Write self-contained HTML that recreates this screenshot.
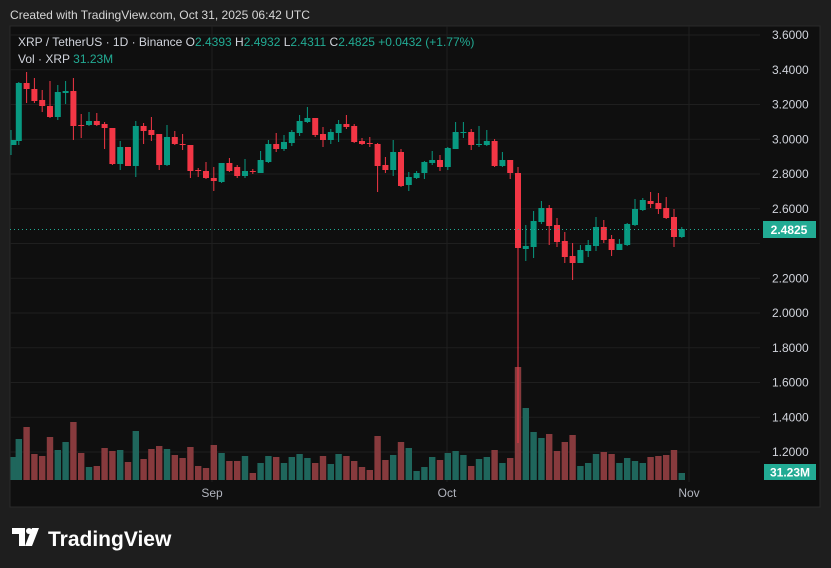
<!DOCTYPE html>
<html><head><meta charset="utf-8"><style>
html,body{margin:0;padding:0;background:#1e1e1e;width:831px;height:568px;overflow:hidden;font-family:"Liberation Sans",sans-serif}
svg{position:absolute;left:0;top:0}
</style></head><body>
<svg id="s" width="831" height="568" xmlns="http://www.w3.org/2000/svg">
<rect x="0" y="0" width="831" height="568" fill="#1e1e1e"/>
<text x="10" y="19" fill="#d6d6d6" font-size="12" font-family="Liberation Sans, sans-serif" textLength="300" lengthAdjust="spacingAndGlyphs">Created with TradingView.com, Oct 31, 2025 06:42 UTC</text>
<rect x="10" y="26" width="810" height="481" fill="#0f0f0f" stroke="#2a2a2a" stroke-width="1"/>
<g id="grid"></g>
<g id="vol"></g>
<g id="cnd"></g>
<line x1="10" y1="229.5" x2="760" y2="229.5" stroke="#22ab94" stroke-width="1" stroke-dasharray="1,3"/>
<g id="lbl" font-size="12" fill="#d1d4dc" font-family="Liberation Sans, sans-serif"></g>
<rect x="763" y="221" width="53" height="17" fill="#22ab94"/>
<text x="789" y="234" fill="#fff" font-size="12" font-weight="bold" text-anchor="middle">2.4825</text>
<rect x="764" y="464" width="52" height="16" fill="#22ab94"/>
<text x="790" y="476.5" fill="#fff" font-size="12" font-weight="bold" text-anchor="middle">31.23M</text>
<g font-size="12" fill="#b2b5be" text-anchor="middle">
<text x="212" y="497">Sep</text><text x="447" y="497">Oct</text><text x="689" y="497">Nov</text>
</g>
<text x="18" y="46" font-size="12" fill="#d1d4dc">XRP / TetherUS · 1D · Binance <tspan fill="#d1d4dc"> O</tspan><tspan fill="#22ab94">2.4393</tspan><tspan> H</tspan><tspan fill="#22ab94">2.4932</tspan><tspan> L</tspan><tspan fill="#22ab94">2.4311</tspan><tspan> C</tspan><tspan fill="#22ab94">2.4825 +0.0432 (+1.77%)</tspan></text>
<text x="18" y="63" font-size="12" fill="#d1d4dc">Vol · XRP <tspan fill="#22ab94">31.23M</tspan></text>
<g transform="translate(12,528)" fill="#ffffff">
<path d="M0 0h13v18h-6V6H0z"/><circle cx="17" cy="3" r="3"/><path d="M20 0h7l-7 18h-7z"/>
</g>
<text x="48" y="546" fill="#ffffff" font-size="21" font-weight="bold">TradingView</text>
</svg>
<script>
const NS="http://www.w3.org/2000/svg";
function el(p,t,a){const e=document.createElementNS(NS,t);for(const k in a)e.setAttribute(k,a[k]);document.getElementById(p).appendChild(e);return e;}
const prices=["3.6000","3.4000","3.2000","3.0000","2.8000","2.6000","2.4000","2.2000","2.0000","1.8000","1.6000","1.4000","1.2000"];
prices.forEach((p,i)=>{const y=35+i*34.75;
 el("grid","line",{x1:10,x2:760,y1:y,y2:y,stroke:"#1f1f1f","stroke-width":1});
 if(p!=="2.4000"){const t=el("lbl","text",{x:772,y:y+4});t.textContent=p;}});
[212,447,689].forEach(x=>el("grid","line",{x1:x,x2:x,y1:26,y2:482,stroke:"#1f1f1f","stroke-width":1}));
const C=[
[140,145,130,155,1],[83,141,82,145,1],[83,89,72,103,0],[89,101,78,103,0],[100,106,90,112,0],[106,117,81,118,0],[92,117,85,120,1],[91,93,81,104,1],[91,126,78,140,0],[125,126,114,138,0],
[121,125,112,126,1],[121,125,113,126,0],[124,128,122,149,0],[128,164,128,165,0],[147,164,141,170,1],[147,166,147,166,0],[126,166,121,177,1],[126,131,123,144,0],[130,135,117,141,0],[134,165,134,170,0],
[137,165,125,166,1],[137,144,131,145,0],[144,145,134,150,0],[145,171,145,178,0],[170,171,168,177,0],[171,178,162,179,0],[178,181,167,191,0],[163,182,163,183,1],[163,171,158,172,0],[167,176,165,178,0],
[171,176,159,178,1],[171,172,169,174,0],[160,173,151,173,1],[144,162,140,163,1],[144,149,133,152,0],[142,149,135,151,1],[132,143,130,146,1],[121,133,115,136,1],[118,122,107,123,1],[118,135,118,137,0],
[134,140,127,147,0],[132,140,129,144,1],[124,133,120,142,1],[124,127,115,129,0],[126,142,124,143,0],[141,144,138,145,0],[143,144,137,147,0],[144,166,143,192,0],[165,170,157,173,0],[152,170,140,176,1],
[152,186,149,187,0],[177,185,172,191,1],[173,178,171,179,1],[162,173,161,179,1],[160,163,151,165,1],[160,167,155,171,0],[148,167,147,170,1],[132,149,122,149,1],[132,133,122,138,1],[132,145,129,150,0],
[144,145,126,147,1],[141,145,130,146,1],[141,166,139,167,0],[160,166,152,167,1],[160,173,160,179,0],[173,248,167,443,0],[246,249,225,261,1],[221,247,211,258,1],[208,222,201,224,1],[208,226,205,245,0],
[225,242,218,247,0],[241,257,232,263,0],[256,263,243,280,0],[250,263,245,263,1],[245,251,240,257,1],[227,246,217,251,1],[227,240,220,243,0],[239,250,235,256,0],[244,250,239,250,1],[224,245,223,246,1],
[209,225,199,226,1],[200,210,198,211,1],[201,204,192,208,0],[203,209,193,214,0],[208,218,197,219,0],[217,237,209,247,0],[229,237,227,238,1]];
const V=[[457,1],[439,1],[427,0],[454,0],[456,0],[437,0],[450,1],[442,1],[422,0],[453,0],[467,1],[466,0],[448,0],[451,0],[450,1],[462,0],[431,1],[459,0],[449,0],[446,0],
[449,1],[455,0],[458,0],[447,0],[466,0],[468,0],[445,0],[453,1],[461,0],[461,0],[456,1],[473,0],[463,1],[456,1],[457,0],[463,1],[457,1],[454,1],[458,1],[463,0],
[456,0],[464,1],[454,1],[456,0],[461,0],[467,0],[470,0],[436,0],[460,0],[455,1],[442,0],[448,1],[471,1],[467,1],[457,1],[460,0],[453,1],[451,1],[455,1],[466,0],
[459,1],[457,1],[450,0],[463,1],[458,0],[367,0],[408,1],[432,1],[438,1],[434,0],[451,0],[442,0],[435,0],[466,1],[463,1],[454,1],[452,0],[454,0],[463,1],[458,1],
[461,1],[463,1],[457,0],[456,0],[455,0],[450,0],[473,1]];
const X=i=>11+7.8*i;
V.forEach((v,i)=>{const x=X(i);el("vol","rect",{x:Math.max(10.5,x-3.2),y:v[0],width:6.4,height:480-v[0],fill:v[1]?"#1f665c":"#873a3d"});});
C.forEach((c,i)=>{const x=X(i);const col=c[4]?"#089981":"#f23645";
 el("cnd","rect",{x:x-0.5,y:c[2],width:1,height:c[3]-c[2],fill:col});
 el("cnd","rect",{x:Math.max(10.5,x-3),y:c[0],width:6,height:Math.max(1,c[1]-c[0]),fill:col});});
</script>
</body></html>
